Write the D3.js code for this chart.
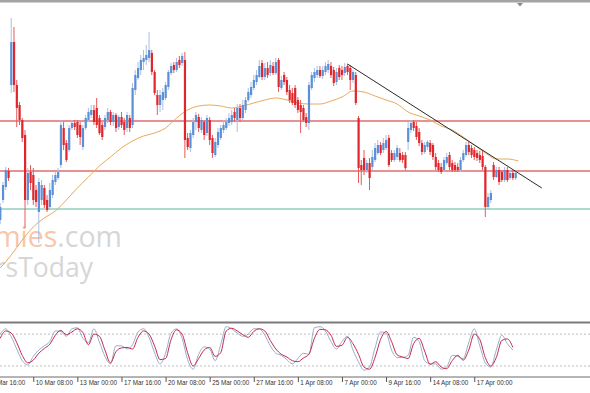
<!DOCTYPE html>
<html>
<head>
<meta charset="utf-8">
<script src="https://cdn.jsdelivr.net/npm/d3@7"></script>
<style>
  html, body { margin: 0; padding: 0; background: #fff; overflow: hidden; }
  svg { display: block; }
</style>
</head>
<body>
<svg id="chart" width="590" height="393"></svg>
<script>
// H4 candles, price in chart points
const opens = [
  180,200,213,229,315,358,315,295,280,265,200,228,225,210,188,200,
  212,200,193,205,218,222,235,272,257,250,272,277,278,275,253,272,
  280,285,290,292,282,275,273,280,288,278,285,273,283,278,272,282,
  275,310,322,330,338,340,342,347,328,305,295,300,302,313,327,335,
  330,340,337,340,262,252,265,278,283,270,278,267,280,262,245,255,
  262,270,272,277,278,288,280,292,282,290,300,305,312,318,323,337,
  323,332,327,334,327,340,312,325,320,310,307,312,300,295,292,283,
  277,312,322,325,330,324,328,330,334,330,318,332,330,327,334,332,
  320,325,282,235,242,230,237,233,240,247,255,250,252,262,247,240,
  243,247,245,245,258,270,278,274,268,257,248,253,257,255,243,237,
  233,230,237,245,237,235,233,230,240,245,255,252,250,247,245,244,
  233,193,200,235,223,230,228,220,230,222,227,222
];
const closes = [
  193,215,230,222,358,315,292,280,262,200,227,217,200,198,218,215,
  195,190,210,220,225,228,275,255,240,272,277,273,265,263,272,282,
  288,290,278,275,267,263,282,288,278,285,272,283,275,270,285,272,
  312,325,332,340,342,345,350,328,307,295,305,308,315,328,334,330,
  338,335,344,260,253,267,278,285,272,280,265,282,260,247,258,268,
  272,275,278,282,285,282,292,282,295,300,308,313,320,325,334,323,
  332,325,335,327,338,313,320,318,308,300,297,295,290,288,280,277,
  315,325,328,330,324,330,334,336,325,317,328,323,325,333,328,320,
  328,297,232,230,230,237,222,243,252,255,247,257,260,235,240,247,
  252,240,240,232,272,277,272,263,257,248,255,258,248,243,233,230,
  228,240,243,233,230,230,230,240,247,255,248,245,243,242,240,233,
  193,203,207,223,230,218,220,230,220,227,222,227
];
const highs = [
  197,218,233,232,382,373,320,298,282,270,232,235,232,215,222,220,
  215,205,217,225,228,232,280,278,260,275,280,280,280,278,275,285,
  292,295,295,302,285,278,285,292,290,288,287,285,288,282,288,285,
  317,330,338,345,350,355,368,350,330,310,310,312,318,330,337,338,
  342,344,347,348,267,270,282,288,286,283,280,285,283,265,262,272,
  275,280,282,287,290,292,296,296,300,303,312,318,325,330,340,340,
  337,338,340,338,342,342,324,328,323,315,312,315,303,300,295,287,
  318,328,332,334,334,334,338,340,338,333,332,335,334,337,336,335,
  330,328,284,240,250,240,242,250,257,260,258,262,265,265,250,250,
  255,252,248,248,278,280,280,278,272,260,258,260,260,257,247,240,
  237,243,247,248,240,238,237,243,250,258,258,255,253,250,249,250,
  235,207,210,238,233,233,230,233,233,230,230,230
];
const lows = [
  176,197,210,219,307,308,273,275,258,172,195,210,195,193,157,195,
  192,188,190,202,215,220,232,250,238,248,270,270,262,255,250,270,
  278,282,275,272,265,260,270,277,275,274,268,270,272,265,268,268,
  272,305,320,325,330,335,338,325,305,285,288,290,300,310,325,327,
  328,332,334,242,250,248,262,270,268,267,260,264,255,242,243,252,
  260,267,270,274,275,278,268,278,280,287,298,302,310,315,322,320,
  320,322,324,325,325,308,310,315,305,297,295,292,287,267,278,273,
  270,310,318,322,322,321,325,327,322,314,315,320,320,324,325,310,
  317,295,217,215,225,227,210,230,238,245,245,247,250,233,238,238,
  240,238,237,230,250,267,269,260,254,245,246,250,245,240,230,228,
  226,228,235,230,228,228,228,228,238,243,245,242,240,239,237,230,
  183,190,197,220,222,215,218,218,218,220,220,220
];

// moving average, read every 4 bars (last point at bar 188)
const maBars = [0,4,8,12,16,20,24,28,32,36,40,44,48,52,56,60,64,68,72,76,80,84,88,92,
  96,100,104,108,112,116,120,124,128,132,136,140,144,148,152,156,160,164,168,172,176,180,184,188];
const maValues = [132,145,160,173,182,189,200,212,223,234,243,252,259,264,267,272,282,290,294,295,294,292,294,297,
  300,302,300,297,296,296,299,303,309,308,304,300,296,288,284,280,274,270,263,255,247,241,241,239];

// stochastic, read every 2 bars
const stochD = [72,86,82,64,40,26,31,44,53,61, 78,87,79,84,90,83,60,80,76,50,
  26,47,54,55,52,74,86,80,58,32, 34,70,88,80,45,20,34,50,55,38,
  45,86,91,86,79,74,85,90,86,68, 52,42,37,30,28,35,42,72,89,88,
  78,57,59,74,62,42,18,14,36,70, 85,66,41,37,34,62,72,48,23,28,
  18,15,30,40,31,50,80,70,36,20, 36,68,71,55];
const stochK = [80,90,75,52,30,22,38,50,58,66, 86,85,76,90,92,72,64,90,65,38,
  24,58,58,52,60,84,90,74,45,24, 44,82,90,72,32,14,42,56,52,30,
  60,94,90,82,76,80,90,90,78,58, 44,40,32,24,34,44,42,92,94,86,
  66,52,66,76,50,28,12,18,54,84, 82,50,36,36,40,74,66,30,24,24,
  14,18,40,38,34,64,90,58,26,18, 50,78,62,50];
const stochLevels = [80, 20];

// horizontal levels and trend line
const resistance = [279, 229];
const support = [191];
const trendBars = [126, 196.5];
const trendValues = [336, 212];

// time axis
const tickBars = [-4,12,28,44,60,76,92,108,124,140,156,172];
const tickLabels = ["5 Mar 16:00","10 Mar 08:00","13 Mar 00:00","17 Mar 16:00","20 Mar 08:00",
  "25 Mar 00:00","27 Mar 16:00","1 Apr 08:00","7 Apr 00:00","9 Apr 16:00","14 Apr 08:00","17 Apr 00:00"];

const W = 590, H = 393;
const svg = d3.select("#chart");

const x = d3.scaleLinear().domain([0, 187]).range([0.2, 515.6]);
const y = d3.scaleLinear().domain([80, 397]).range([320, 3]);
const yOsc = d3.scaleLinear().domain([0, 100]).range([376.6, 323.5]);

svg.append("rect").attr("width", W).attr("height", H).attr("fill", "#fff");

// watermark
const wm = svg.append("g").attr("font-family", "'Open Sans', sans-serif");
const wm1 = wm.append("text").attr("x", 122).attr("y", 247).attr("text-anchor", "end")
  .attr("font-size", 28.5);
wm1.append("tspan").attr("fill", "#f7c6ab").text("mies");
wm1.append("tspan").attr("fill", "#d6d6d6").text(".com");
wm.append("text").attr("x", 93).attr("y", 277).attr("text-anchor", "end")
  .attr("font-size", 26.5).attr("fill", "#d6d6d6").text("rsToday");

// level lines
svg.selectAll(".res").data(resistance).enter().append("line")
  .attr("x1", 0).attr("x2", W).attr("y1", d => y(d)).attr("y2", d => y(d))
  .attr("stroke", "#e06c6c").attr("stroke-width", 1.5);
svg.selectAll(".sup").data(support).enter().append("line")
  .attr("x1", 0).attr("x2", W).attr("y1", d => y(d)).attr("y2", d => y(d))
  .attr("stroke", "#8fd0c0").attr("stroke-width", 1.5);

// moving average
const maLine = d3.line().x(d => x(d[0])).y(d => y(d[1])).curve(d3.curveMonotoneX);
svg.append("path").datum(maBars.map((b, i) => [b, maValues[i]]))
  .attr("fill", "none").attr("stroke", "#eba85a").attr("stroke-width", 1).attr("d", maLine);

// candles
const candles = closes.map((c, i) => ({ i, o: opens[i], h: highs[i], l: lows[i], c }));
const cg = svg.append("g");
cg.selectAll("line").data(candles).enter().append("line")
  .attr("x1", d => x(d.i)).attr("x2", d => x(d.i))
  .attr("y1", d => y(d.h)).attr("y2", d => y(d.l))
  .attr("stroke", d => d.c >= d.o ? "#a9bfdf" : "#e65a5a").attr("stroke-width", 1);
cg.selectAll("rect").data(candles).enter().append("rect")
  .attr("x", d => x(d.i) - 1).attr("width", 2.2)
  .attr("y", d => y(Math.max(d.o, d.c)))
  .attr("height", d => Math.max(1, Math.abs(y(d.o) - y(d.c))))
  .attr("fill", d => d.c >= d.o ? "#5b8fd8" : "#e0262c");

// trend line
svg.append("line")
  .attr("x1", x(trendBars[0])).attr("y1", y(trendValues[0]))
  .attr("x2", x(trendBars[1])).attr("y2", y(trendValues[1]))
  .attr("stroke", "#2a2a2a").attr("stroke-width", 1);

// frame
svg.append("rect").attr("x", 0).attr("y", 0).attr("width", W).attr("height", 2.5).attr("fill", "#a4a4a4");
svg.append("path").attr("d", "M517,3L523,3L520,6.5Z").attr("fill", "#8a8a8a");
svg.append("rect").attr("x", 0).attr("y", 321.5).attr("width", W).attr("height", 2).attr("fill", "#7a7a7a");

// oscillator panel
svg.selectAll(".lvl").data(stochLevels).enter().append("line")
  .attr("x1", 0).attr("x2", W).attr("y1", d => yOsc(d)).attr("y2", d => yOsc(d))
  .attr("stroke", "#bdbdbd").attr("stroke-width", 1).attr("stroke-dasharray", "2,2");
const oscLine = d3.line().x((d, i) => x(i * 2)).y(d => yOsc(d)).curve(d3.curveMonotoneX);
svg.append("path").datum(stochK).attr("fill", "none").attr("stroke", "#98aecb")
  .attr("stroke-width", 1).attr("d", oscLine);
svg.append("path").datum(stochD).attr("fill", "none").attr("stroke", "#c4284c")
  .attr("stroke-width", 1).attr("d", oscLine);

svg.append("line").attr("x1", 0).attr("x2", W).attr("y1", 377).attr("y2", 377)
  .attr("stroke", "#6a6a6a").attr("stroke-width", 1);

// time axis
const axis = d3.axisBottom(x).tickValues(tickBars)
  .tickFormat((d, i) => tickLabels[i]).tickSize(5).tickPadding(0);
const gx = svg.append("g").attr("transform", "translate(0,377)").call(axis);
gx.select(".domain").remove();
gx.selectAll(".tick line").attr("stroke", "#555");
gx.selectAll(".tick text")
  .attr("text-anchor", "start").attr("x", 2).attr("y", 8).attr("dy", null)
  .attr("fill", "#333")
  .style("font-family", "'Liberation Sans Narrow', 'Arial Narrow', 'Liberation Sans', sans-serif")
  .style("font-size", "6.3px");
</script>
</body>
</html>
